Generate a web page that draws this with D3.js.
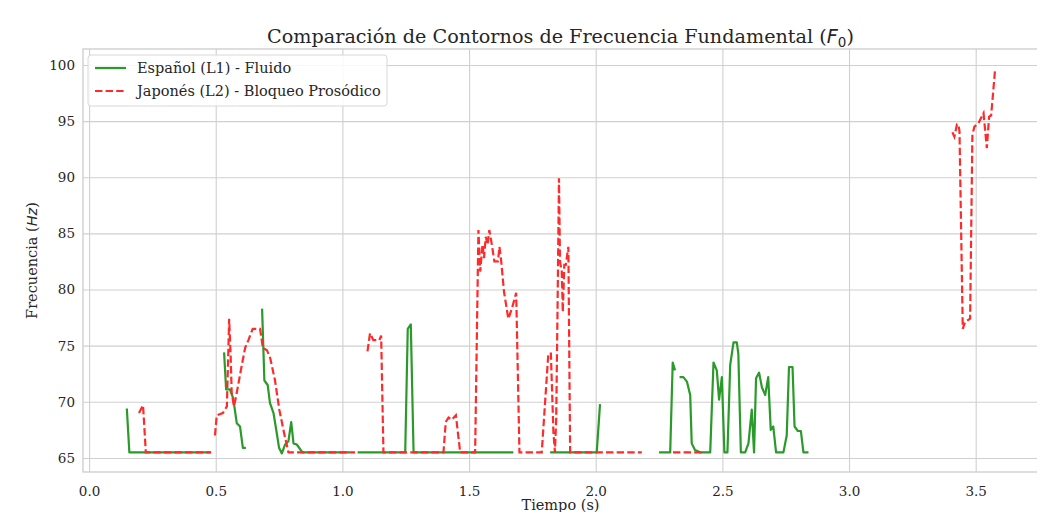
<!DOCTYPE html>
<html>
<head>
<meta charset="utf-8">
<script src="https://cdn.jsdelivr.net/npm/d3@7"></script>
<style>
  body { margin: 0; background: #fff; overflow: hidden; }
  text { font-family: 'DejaVu Serif', serif; fill: #262626; }
</style>
</head>
<body>
<svg class="f0-chart"></svg>
<script>
const width = 1037;
const height = 512;

// Data (null = unvoiced gap)
const esTime = [0.149, 0.159, 0.48, null,
    0.533, 0.541, 0.556, 0.569, 0.583, 0.596, 0.607, 0.619, null,
    0.683, 0.692, 0.705, 0.714, 0.728, 0.741, 0.750, 0.761, 0.774, 0.787, 0.798, 0.807, 0.820, 0.842, 1.03, null,
    1.06, 1.248, 1.258, 1.270, 1.281, 1.675, null,
    1.82, 2.004, 2.017, null,
    2.250, 2.294, 2.304, 2.313, null,
    2.331, 2.346, 2.360, 2.373, 2.379, 2.392, 2.412, 2.452, 2.465, 2.478, 2.487, 2.498, 2.508, 2.520, 2.531, 2.544,
    2.557, 2.563, 2.573, 2.590, 2.603, 2.616, 2.625, 2.633, 2.645, 2.656, 2.669, 2.681, 2.691, 2.701, 2.712, 2.741,
    2.754, 2.763, 2.777, 2.785, 2.798, 2.810, 2.820, 2.840];
const esF0 = [69.4, 65.5, 65.5, null,
    74.4, 71.1, 71.1, 70.3, 68.1, 67.8, 65.9, 65.9, null,
    78.3, 71.9, 71.5, 69.9, 69.0, 67.2, 65.9, 65.4, 66.2, 66.5, 68.2, 66.3, 66.2, 65.5, 65.5, null,
    65.5, 65.5, 76.5, 76.9, 65.5, 65.5, null,
    65.5, 65.5, 69.8, null,
    65.5, 65.5, 73.5, 72.8, null,
    72.2, 72.2, 71.8, 70.6, 66.3, 65.7, 65.5, 65.5, 73.5, 72.8, 70.2, 72.2, 65.5, 65.5, 73.3, 75.3,
    75.3, 74.3, 65.5, 65.5, 66.3, 69.3, 65.5, 72.1, 72.6, 71.3, 70.6, 72.2, 67.5, 67.8, 65.5, 65.5,
    67.0, 73.1, 73.1, 67.8, 67.4, 67.4, 65.5, 65.5];

const jaTime = [0.197, 0.213, 0.224, 0.482, null,
    0.497, 0.504, 0.528, 0.544, 0.553, 0.559, 0.563, 0.572, 0.583, 0.599, 0.616, 0.629, 0.646, 0.675, 0.686, 0.702,
    0.715, 0.734, 0.751, 0.770, 0.787, 1.05, null,
    1.099, 1.109, 1.122, 1.146, 1.153, 1.162, 1.399, 1.408, 1.419, 1.432, 1.448, 1.465, 1.524, 1.537, 1.544, 1.553,
    1.559, 1.566, 1.573, 1.580, 1.590, 1.600, 1.614, 1.620, 1.627, 1.638, 1.655, 1.669, 1.686, 1.699, 1.787, 1.813,
    1.823, 1.833, 1.839, 1.844, 1.849, 1.855, 1.859, 1.866, 1.870, 1.876, 1.882, 1.892, 1.899, 2.182, null,
    2.305, 2.43, null,
    3.408, 3.416, 3.426, 3.432, 3.436, 3.449, 3.458, 3.478, 3.487, 3.495, 3.511, 3.524, 3.531, 3.544, 3.553, 3.561, 3.577];
const jaF0 = [69.0, 69.7, 65.5, 65.5, null,
    67.0, 68.8, 69.0, 69.6, 77.4, 74.0, 70.8, 69.6, 70.8, 72.8, 74.8, 75.5, 76.5, 76.5, 74.8, 74.6,
    73.9, 71.9, 69.3, 67.2, 65.5, 65.5, null,
    74.5, 76.1, 75.5, 75.5, 75.9, 65.5, 65.5, 68.2, 68.6, 68.4, 68.8, 65.5, 65.5, 85.3, 81.6, 84.0,
    82.8, 84.7, 84.0, 85.3, 84.0, 82.5, 82.5, 83.8, 82.5, 79.8, 77.4, 78.3, 79.7, 65.5, 65.5, 74.3,
    74.3, 67.3, 65.5, 68.5, 77.7, 89.9, 82.5, 81.6, 78.0, 82.2, 82.2, 83.8, 65.5, 65.5, null,
    65.5, 65.5, null,
    94.0, 93.6, 94.7, 94.7, 94.1, 76.5, 77.1, 77.4, 93.8, 94.5, 94.8, 95.4, 95.7, 92.6, 95.4, 95.5, 99.7];

const xTicks = [0.0, 0.5, 1.0, 1.5, 2.0, 2.5, 3.0, 3.5];
const yTicks = [65, 70, 75, 80, 85, 90, 95, 100];

const esColor = '#2a9a2a';
const jaColor = '#ff2a2a';

// Axes box
const plot = { left: 83, right: 1038, top: 49, bottom: 472 };

const svg = d3.select('.f0-chart')
    .attr('width', width)
    .attr('height', height);

const xScale = d3.scaleLinear()
    .domain([-0.024, 3.746])
    .range([plot.left, plot.right]);

const yScale = d3.scaleLinear()
    .domain([63.75, 101.42])
    .range([plot.bottom, plot.top]);

// Grid
const xAxis = d3.axisBottom(xScale)
    .tickValues(xTicks)
    .tickFormat(d3.format('.1f'))
    .tickSize(-(plot.bottom - plot.top))
    .tickPadding(14);

const yAxis = d3.axisLeft(yScale)
    .tickValues(yTicks)
    .tickSize(-(plot.right - plot.left))
    .tickPadding(8);

const gx = svg.append('g')
    .attr('transform', `translate(0,${plot.bottom})`)
    .call(xAxis);

const gy = svg.append('g')
    .attr('transform', `translate(${plot.left},0)`)
    .call(yAxis);

[gx, gy].forEach(g => {
    g.select('.domain').remove();
    g.selectAll('line').attr('stroke', '#d0d0d0').attr('stroke-width', 1.1);
    g.selectAll('text')
        .attr('font-family', "'DejaVu Serif', serif")
        .attr('font-size', 13.5)
        .attr('fill', '#262626');
});

// Spines
svg.append('rect')
    .attr('x', plot.left)
    .attr('y', plot.top)
    .attr('width', plot.right - plot.left)
    .attr('height', plot.bottom - plot.top)
    .attr('fill', 'none')
    .attr('stroke', '#cccccc')
    .attr('stroke-width', 1.3);

// Lines
const line = d3.line()
    .defined(d => d[1] !== null)
    .x(d => xScale(d[0]))
    .y(d => yScale(d[1]));

const esData = esTime.map((t, i) => [t, esF0[i]]);
const jaData = jaTime.map((t, i) => [t, jaF0[i]]);

svg.append('path')
    .datum(esData)
    .attr('d', line)
    .attr('fill', 'none')
    .attr('stroke', esColor)
    .attr('stroke-width', 2.2)
    .attr('stroke-linejoin', 'round');

svg.append('path')
    .datum(jaData)
    .attr('d', line)
    .attr('fill', 'none')
    .attr('stroke', jaColor)
    .attr('stroke-width', 2.2)
    .attr('stroke-dasharray', '7.4,3.2');

// Title
const title = svg.append('text')
    .attr('x', (plot.left + plot.right) / 2)
    .attr('y', 43)
    .attr('text-anchor', 'middle')
    .attr('font-size', 19.2);
title.append('tspan').text('Comparación de Contornos de Frecuencia Fundamental (');
title.append('tspan').text('F').attr('font-family', "'DejaVu Sans', sans-serif").attr('font-style', 'italic');
title.append('tspan').text('0').attr('font-family', "'DejaVu Sans', sans-serif").attr('font-size', 13.5).attr('dy', 4);
title.append('tspan').text(')').attr('dy', -4);

// Axis labels
const yLabel = svg.append('text')
    .attr('transform', `translate(37,${(plot.top + plot.bottom) / 2}) rotate(-90)`)
    .attr('text-anchor', 'middle')
    .attr('font-size', 14.5);
yLabel.append('tspan').text('Frecuencia (');
yLabel.append('tspan').text('Hz').attr('font-family', "'DejaVu Sans', sans-serif").attr('font-style', 'italic');
yLabel.append('tspan').text(')');

svg.append('text')
    .attr('x', (plot.left + plot.right) / 2)
    .attr('y', 510)
    .attr('text-anchor', 'middle')
    .attr('font-size', 14.5)
    .text('Tiempo (s)');

// Legend
const legend = svg.append('g')
    .attr('transform', 'translate(88,55)');

legend.append('rect')
    .attr('width', 299)
    .attr('height', 51)
    .attr('rx', 3)
    .attr('fill', 'rgba(255,255,255,0.85)')
    .attr('stroke', '#d8d8d8');

const legendItems = [
    { label: 'Español (L1) - Fluido', color: esColor, dash: null },
    { label: 'Japonés (L2) - Bloqueo Prosódico', color: jaColor, dash: '7.4,3.2' }
];

legendItems.forEach((item, i) => {
    const y = 13 + i * 23;
    legend.append('line')
        .attr('x1', 7).attr('x2', 38)
        .attr('y1', y).attr('y2', y)
        .attr('stroke', item.color)
        .attr('stroke-width', 2.2)
        .attr('stroke-dasharray', item.dash);
    legend.append('text')
        .attr('x', 49)
        .attr('y', y + 5)
        .attr('font-size', 14.5)
        .text(item.label);
});
</script>
</body>
</html>
